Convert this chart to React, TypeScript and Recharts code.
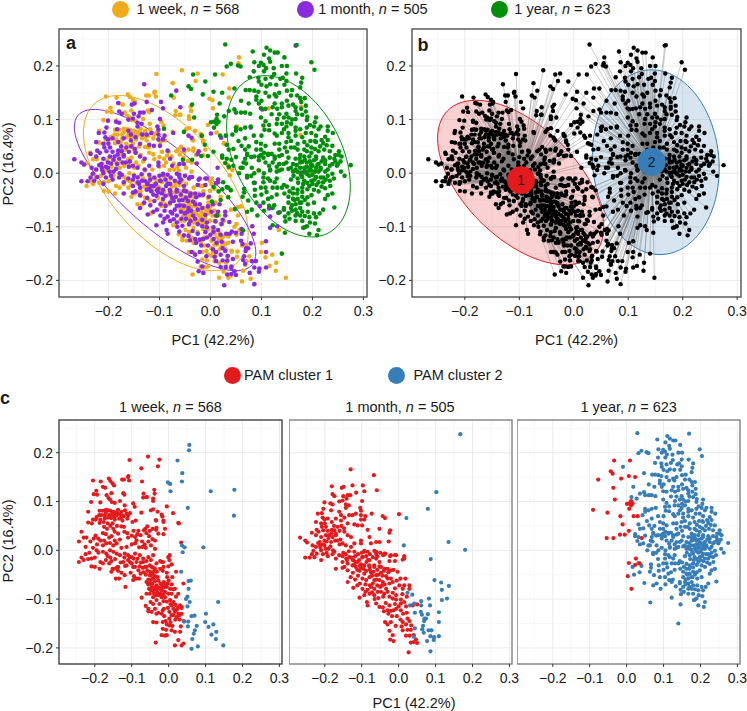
import React from 'react';
import { ScatterChart, Scatter, XAxis, YAxis, CartesianGrid, ReferenceArea } from 'recharts';

// values are PC scores x 1000
const weekCluster1 = [[-205,143],[-184,141],[-162,147],[-158,142],[-152,137],[-148,133],[-126,145],[-109,152],[-107,143],[-72,141],[-196,122],[-203,115],[-194,114],[-178,130],[-172,128],[-155,117],[-123,117],[-120,114],[-210,99],[-185,98],[-168,113],[-163,107],[-159,104],[-154,99],[-146,97],[-132,101],[-119,92],[-96,96],[-68,116],[-69,108],[-60,109],[-39,124],[-38,116],[-42,106],[-92,89],[-74,77],[-5,90],[-48,82],[-30,79],[-19,73],[-14,61],[-34,61],[26,56],[-218,79],[-187,81],[-179,81],[-170,83],[-164,82],[-158,81],[-150,79],[-137,83],[-128,79],[-114,75],[-105,76],[-188,72],[-182,72],[-173,72],[-161,72],[-150,72],[-141,72],[-128,68],[-110,72],[-205,63],[-198,63],[-185,63],[-173,65],[-164,67],[-146,63],[-134,65],[-125,61],[-112,65],[-98,58],[-89,61],[-58,49],[-63,44],[-43,44],[-34,42],[-10,44],[-208,55],[-218,57],[-187,56],[-175,48],[-167,44],[-150,44],[-128,49],[-121,48],[-146,38],[-137,34],[-236,38],[-230,26],[-223,26],[-203,24],[-191,24],[-185,20],[-170,33],[-161,26],[-155,29],[-146,20],[-132,22],[-110,26],[-91,27],[-82,40],[-67,41],[-51,40],[-87,20],[-76,31],[-53,29],[-28,34],[-37,20],[-243,18],[-225,7],[-194,12],[-178,10],[-169,14],[-159,15],[-150,10],[-141,14],[-128,5],[-114,7],[-100,12],[-91,14],[-71,7],[-62,5],[-37,3],[-236,-15],[-243,-24],[-230,-20],[-218,-18],[-209,-17],[-178,-3],[-169,-7],[-159,0],[-150,-3],[-141,-7],[-132,-10],[-119,-7],[-110,-10],[-100,-14],[-91,-7],[-78,-10],[-69,-17],[-55,-14],[-42,-10],[-33,-27],[-19,-24],[-1,-14],[2,-20],[-209,-33],[-200,-34],[-185,-24],[-178,-27],[-170,-20],[-161,-27],[-152,-38],[-141,-36],[-110,-20],[-100,-27],[-87,-24],[-91,-34],[-78,-33],[-64,-34],[-51,-31],[-42,-36],[-14,-34],[-1,-33],[8,-29],[-187,-38],[-106,185],[-56,192],[-25,186],[-29,172],[-74,168],[12,76],[28,55],[34,16],[-35,62],[-14,58],[-110,150],[-121,145],[-42,101],[-59,109],[-42,84],[-17,69],[-33,46],[-14,33],[3,-10],[-149,-38],[-137,-34],[-123,-24],[-114,-31],[-105,-24],[-96,-34],[-69,-24],[-60,-34],[-46,-34],[-37,-38],[-23,-22],[-15,-24],[-137,-42],[-128,-46],[-119,-51],[-143,-58],[-134,-58],[-103,-46],[-94,-53],[-88,-58],[-80,-58],[-117,-75],[-96,-61],[-51,-51],[-44,-48],[-37,-53],[-42,-58],[-49,-61],[-55,-60],[-60,-65],[-53,-68],[-44,-68],[-37,-63],[-33,-72],[-46,-75],[-53,-79],[-42,-82],[-33,-81],[-23,-79],[-16,-42],[-23,-38],[-5,-46],[-4,-55],[10,-55],[20,-44],[40,-68],[-3,-68],[-19,-82],[-10,-85],[-1,-89],[-23,-89],[-28,-92],[-19,-96],[-10,-96],[4,-79],[-73,-97],[-49,-106],[-33,-102],[-62,-114],[-55,-120],[-46,-126],[-55,-125],[-37,-120],[-33,-130],[-16,-123],[-13,-120],[-19,-130],[8,-113],[13,-120],[22,-122],[31,-113],[35,-116],[17,-126],[26,-130],[35,-130],[13,-133],[22,-137],[29,-133],[35,-118],[41,-145],[-42,-147],[-33,-148],[-16,-147],[2,-140],[5,-147],[-5,-152],[-16,-161],[-7,-163],[2,-154],[8,-164],[17,-167],[31,-167],[33,-156],[-35,-189],[-19,-174],[-5,-174],[26,-184],[17,-195],[35,-195],[40,-191],[-18,-72],[-13,-65],[-30,-55],[4,-102],[13,-106],[-14,-104],[-33,-92],[-42,-96],[-51,-89],[-60,-89],[-5,-75],[8,-89],[17,-79],[26,-89],[2,-126],[-155,-44],[-143,77],[-153,75],[-146,69],[-138,75],[-156,66],[-130,74],[-122,70],[-118,82],[-195,68],[-170,77],[-176,58],[-165,55],[-158,50],[-140,50],[-152,55],[-120,38],[-112,35],[-100,30],[-95,40],[-85,33],[-72,18],[-65,12],[-80,6],[-48,10],[-44,23],[-60,35],[-55,18],[-120,-15],[-105,-14],[-95,-17],[-84,-17],[-75,-25],[-60,-22],[-48,-20],[-82,-41],[-70,-36],[-58,-42],[-68,-45],[-76,-48],[-62,-50],[-50,-44],[-32,-44],[-28,-62],[-22,-68],[-48,-52],[-40,-44],[-55,-70],[-38,-76],[-28,-76],[-14,-76],[-30,-86],[-15,-90],[-40,-88],[-48,-82],[-8,-70],[0,-62],[8,-70],[12,-80],[20,-95],[-5,-105],[5,-110],[18,-112],[25,-118],[-2,-118],[-25,-110],[-42,-110],[-28,-128],[-12,-135],[8,-133],[18,-142],[30,-142],[-8,-145],[10,-155],[-10,-175],[-175,20],[-165,-12],[-155,-22],[-195,0],[-205,5],[-215,-5],[-225,-8],[-200,-15],[-190,-5],[-212,18],[-198,30],[-178,35],[-158,-15],[-145,-18],[-130,-25],[-118,-32]];
const weekCluster2 = [[56,216],[55,205],[24,184],[37,158],[36,141],[-2,139],[4,136],[5,121],[114,121],[178,124],[52,87],[177,71],[36,10],[43,6],[94,6],[38,-4],[34,-44],[54,-63],[60,-62],[54,-79],[51,-95],[47,-100],[57,-106],[134,-106],[51,-115],[62,-135],[70,-134],[101,-130],[42,-146],[53,-146],[76,-155],[99,-147],[121,-152],[108,-157],[52,-156],[71,-164],[68,-171],[116,-173],[129,-167],[64,-182],[128,-182],[148,-195],[79,-197],[62,-202]];
const monthCluster1 = [[-181,131],[-154,128],[-149,130],[-125,133],[-97,133],[-59,123],[-93,121],[-115,118],[-179,115],[-174,111],[-150,111],[-138,113],[-131,113],[-141,106],[-99,101],[-201,98],[-185,96],[-179,94],[-161,100],[-152,102],[-143,94],[-135,92],[-143,87],[-104,87],[-102,81],[-204,85],[-208,76],[-219,75],[-183,82],[-161,79],[-156,72],[-147,67],[-134,72],[-125,72],[-116,75],[-102,72],[-90,70],[-93,63],[-102,63],[-73,75],[-43,70],[-37,66],[1,74],[-206,67],[-201,63],[-224,58],[-210,55],[-192,65],[-181,58],[-170,65],[-156,61],[-138,55],[-120,53],[-111,51],[-99,51],[-84,42],[-52,44],[-23,41],[-25,36],[-208,48],[-197,48],[-222,42],[-235,36],[-217,38],[-204,41],[-181,42],[-174,41],[-170,34],[-147,38],[-138,31],[-129,27],[-79,27],[-61,17],[-75,14],[-52,17],[-27,18],[-267,26],[-253,20],[-248,16],[-224,31],[-210,27],[-197,31],[-188,31],[-179,27],[-170,31],[-214,17],[-201,20],[-183,17],[-172,20],[-158,22],[-233,10],[-224,7],[-213,10],[-201,10],[-190,3],[-174,-3],[-152,14],[-143,10],[-129,7],[-120,14],[-102,20],[-102,14],[-84,-3],[-66,-1],[-93,-1],[-36,-7],[-23,-12],[-10,-10],[-253,-15],[-241,-15],[-228,-14],[-231,-1],[-235,-8],[-222,-7],[-210,0],[-210,-20],[-198,3],[-192,-12],[-179,-8],[-170,-17],[-161,-10],[-152,-12],[-143,-8],[-134,-14],[-123,-20],[-116,-24],[-107,-20],[-98,-14],[-87,-24],[-79,-20],[-61,-7],[-42,-10],[-52,-24],[-25,-22],[-10,-22],[15,-17],[-170,-38],[-152,-36],[-138,-27],[-125,-31],[-116,-34],[-102,-36],[-93,-31],[-79,-34],[-66,-31],[-48,-34],[-30,-38],[-14,-40],[-120,-3],[-93,-3],[-61,-3],[-39,-7],[-21,-10],[-7,-10],[15,-12],[11,-19],[-142,-17],[-124,-20],[-111,-24],[-98,-14],[-84,-20],[-61,-17],[-152,-24],[-120,-29],[-102,-29],[-80,-31],[-66,-34],[-52,-33],[-39,-38],[-21,-41],[-3,-44],[-147,-34],[-138,-41],[-124,-46],[-106,-42],[-93,-48],[-75,-46],[-61,-51],[-48,-46],[-34,-53],[-21,-58],[-16,-65],[-98,-58],[-88,-61],[-79,-55],[-66,-61],[-52,-61],[-43,-65],[-138,-65],[-123,-77],[-98,-79],[-84,-81],[-75,-75],[-66,-79],[-57,-85],[-50,-75],[-34,-79],[-30,-85],[-79,-89],[-93,-92],[-106,-97],[-66,-92],[-39,-89],[-16,-87],[-7,-92],[2,-72],[15,-72],[29,-72],[29,-79],[11,-79],[-16,-99],[-7,-101],[6,-101],[15,-106],[6,-109],[20,-115],[-86,-106],[-84,-113],[-61,-109],[-52,-116],[-43,-117],[-25,-113],[-21,-124],[-30,-123],[-28,-130],[-14,-123],[-7,-120],[6,-123],[50,-111],[38,-113],[-37,-147],[-30,-152],[-21,-147],[-25,-165],[-16,-174],[-23,-183],[-14,-186],[5,-142],[11,-147],[8,-156],[11,-164],[20,-152],[29,-145],[24,-140],[34,-154],[24,-163],[33,-163],[41,-174],[47,-183],[41,-188],[50,-190],[33,-189],[27,-209],[-130,166],[-67,154],[-218,15],[-205,12],[-195,18],[-190,25],[-212,5],[-205,-8],[-195,-5],[-185,8],[-178,0],[-182,35],[-192,40],[-200,55],[-175,50],[-165,48],[-160,40],[-155,50],[-148,45],[-166,20],[-160,12],[-140,-20],[-150,-5],[-135,-2],[-128,-15],[-118,-12],[-110,-8],[-100,-5],[-88,-12],[-78,-8],[-70,-14],[-58,-12],[-50,-5],[-112,-40],[-105,-32],[-95,-38],[-88,-42],[-78,-40],[-72,-52],[-68,-44],[-58,-40],[-60,-60],[-55,-50],[-44,-52],[-40,-42],[-28,-45],[-30,-58],[-25,-68],[-38,-70],[-45,-72],[-58,-72],[-70,-68],[-78,-72],[-90,-70],[-105,-68],[-112,-72],[-90,-85],[-72,-86],[-48,-85],[-42,-95],[-25,-95],[-10,-78],[-5,-62],[5,-58],[18,-58],[10,-90],[22,-95],[-10,-110],[0,-115],[-35,-108],[-40,-125],[-18,-135],[-5,-135],[12,-130],[22,-128],[-8,-155],[20,-175],[30,-175],[-65,-100],[-55,-98],[-130,-55],[-118,-60],[-110,-52]];
const monthCluster2 = [[167,238],[102,119],[79,85],[21,66],[135,17],[180,1],[14,10],[87,-18],[97,-61],[115,-66],[136,-73],[117,-81],[24,-87],[37,-91],[82,-99],[117,-102],[131,-99],[61,-104],[42,-109],[31,-113],[61,-113],[85,-113],[60,-126],[44,-128],[79,-131],[63,-132],[70,-140],[74,-140],[69,-145],[109,-127],[109,-147],[66,-155],[44,-160],[64,-162],[81,-164],[89,-164],[68,-169],[41,-177],[86,-176],[96,-178],[109,-176],[95,-184],[77,-186],[86,-207]];
const yearCluster1 = [[-34,184],[9,184],[-43,162],[-38,157],[6,152],[-15,147],[23,150],[-77,145],[-36,128],[-32,104],[1,95],[7,96],[12,101],[16,96],[7,85],[12,92],[-91,83],[-52,77],[-17,70],[19,70],[30,70],[-11,53],[6,40],[-18,32],[-5,32],[-54,25],[-36,25],[41,25],[25,-17],[6,-26],[35,-27],[23,-30],[3,-53],[13,-79]];
const yearCluster2 = [[29,240],[169,239],[83,227],[110,234],[117,229],[126,225],[132,225],[105,221],[145,216],[115,214],[117,208],[86,207],[99,206],[104,202],[109,196],[124,196],[198,207],[204,193],[54,201],[40,204],[32,199],[59,199],[149,186],[168,186],[77,179],[94,178],[108,176],[120,179],[142,178],[180,178],[95,171],[117,166],[129,165],[137,176],[149,172],[178,169],[176,160],[47,158],[-10,171],[18,130],[69,155],[77,155],[86,154],[94,152],[108,150],[126,147],[90,143],[115,143],[129,143],[150,154],[158,145],[176,140],[90,137],[95,130],[126,130],[140,130],[122,123],[99,121],[108,120],[131,120],[140,123],[153,126],[162,128],[178,133],[187,126],[167,123],[178,120],[187,115],[167,116],[180,109],[36,116],[47,119],[50,113],[60,113],[68,113],[78,111],[27,106],[13,109],[207,104],[149,111],[144,104],[153,104],[131,101],[99,104],[108,97],[167,101],[189,99],[50,85],[59,82],[68,85],[79,87],[50,79],[104,89],[106,81],[140,92],[149,87],[144,82],[158,92],[167,85],[176,82],[189,85],[203,87],[216,87],[230,87],[230,79],[212,82],[198,75],[187,75],[167,79],[153,75],[140,75],[126,74],[153,67],[167,70],[180,67],[207,70],[225,68],[43,72],[32,53],[36,44],[68,65],[61,51],[68,44],[90,58],[99,55],[99,44],[108,51],[126,55],[135,55],[149,58],[158,60],[135,44],[146,48],[158,48],[171,55],[184,58],[196,60],[207,58],[221,56],[239,51],[252,41],[171,44],[184,44],[198,48],[212,41],[223,44],[234,41],[245,34],[257,31],[72,34],[86,31],[99,34],[113,36],[126,31],[140,34],[153,29],[167,27],[176,34],[189,41],[184,31],[198,38],[207,31],[221,29],[234,29],[32,27],[23,33],[68,27],[95,24],[108,20],[122,20],[135,17],[149,20],[162,17],[176,20],[189,20],[203,24],[212,17],[225,17],[239,17],[250,17],[184,10],[198,14],[207,10],[176,10],[167,7],[153,8],[194,5],[216,7],[230,7],[81,10],[63,10],[117,7],[135,5],[275,15],[263,-5],[256,3],[248,14],[252,34],[23,29],[29,19],[36,12],[45,14],[59,10],[70,18],[72,36],[95,31],[104,29],[113,34],[126,27],[115,14],[130,12],[144,17],[158,10],[169,15],[180,21],[194,31],[207,27],[225,24],[243,27],[234,14],[216,10],[198,16],[189,12],[56,0],[72,-5],[86,0],[72,-8],[104,-8],[113,-10],[117,5],[130,3],[140,7],[162,3],[176,1],[187,1],[198,5],[212,3],[225,3],[239,-1],[180,-7],[194,-5],[207,-7],[221,-8],[230,-5],[234,-14],[171,-10],[184,-14],[198,-14],[212,-17],[221,-17],[104,-17],[117,-14],[126,-17],[130,-10],[99,-27],[108,-27],[122,-27],[131,-27],[140,-27],[144,-22],[87,-31],[66,-29],[66,-36],[40,-32],[32,-26],[16,-34],[63,-44],[74,-51],[87,-42],[90,-55],[104,-55],[113,-48],[115,-61],[122,-65],[133,-74],[144,-68],[146,-81],[147,-90],[162,-38],[171,-31],[180,-27],[194,-24],[203,-31],[212,-34],[230,-41],[239,-38],[225,-48],[198,-41],[153,-44],[162,-48],[171,-48],[180,-44],[153,-55],[167,-58],[178,-55],[191,-58],[203,-55],[243,-64],[221,-68],[144,-65],[158,-65],[167,-68],[176,-65],[191,-72],[203,-75],[214,-75],[153,-75],[167,-79],[176,-79],[194,-82],[207,-82],[167,-89],[180,-89],[205,-94],[185,-101],[182,-102],[189,-99],[122,-97],[212,-106],[194,-113],[146,-111],[209,-116],[64,-107],[140,-150],[48,-67],[72,-72],[81,-68],[92,-79],[190,-2],[200,-3],[205,3],[195,8],[185,5],[178,-4],[170,3],[163,-5],[158,-12],[172,-18],[182,-20],[190,-18],[200,-20],[208,-22],[218,-25],[225,-28],[235,-24],[242,-10],[226,-12],[216,-8],[204,-12],[190,-30],[180,-35],[170,-38],[162,-28],[155,-34],[150,-25],[145,-38],[175,-55],[185,-50],[190,-45],[165,-50],[160,-60],[170,-75],[180,-72],[185,-80],[195,-92],[160,-70],[155,-85],[200,14],[210,16],[218,22],[195,22],[185,25],[175,27],[205,45],[190,52],[215,50],[228,52],[245,22],[255,22],[230,62],[240,75],[218,62],[205,60],[165,48],[150,40],[135,32],[120,36],[105,38],[90,44],[75,50],[130,70],[115,80],[100,70],[85,70],[160,100],[150,95],[135,110],[120,110],[115,90],[130,92],[170,110],[195,90],[100,135],[75,130],[60,135],[135,150],[150,135],[160,155],[145,165],[110,162],[100,165],[125,185],[105,190],[85,190],[95,200],[140,200],[150,200],[170,145],[185,140],[190,105],[205,95],[110,-35],[120,-45],[100,-40],[85,-18],[80,-5],[95,5],[105,0],[65,20],[50,30],[45,45],[55,60],[80,30],[35,-45],[20,-50],[130,-40],[125,-60],[105,-70]];
const medoidValues = [[-97,-13],[143,21]];

// ellipse: centre x, centre y, half width, y offset at the widest point, remaining y half axis
const ellipseWeek = [-87.5,-18.5,161.5,-93.5,134.1];
const ellipseMonth = [-89,-31.5,178,-117.5,94];
const ellipseYear = [153,31.5,121.3,-56.5,139.5];
const ellipseCluster1 = [-97.5,-17.5,152.5,-82.5,129.4];
const ellipseCluster2 = [150.5,20.5,116.5,-11.5,172];

const xTicks = [-0.2,-0.1,0,0.1,0.2,0.3];
const yTicks = [-0.2,-0.1,0,0.1,0.2];
const xMinor = [-0.25,-0.15,-0.05,0.05,0.15,0.25];
const yMinor = [-0.15,-0.05,0.05,0.15,0.25];

const ORANGE = '#F0AB1A', PURPLE = '#8A2BE0', GREEN = '#008F0A', RED = '#E41A1C', BLUE = '#377EB8';
const FONT = '"Liberation Sans", Arial, sans-serif';
const INK = '#1a1a1a';

const pts = (rows: number[][]) => rows.map(([x, y]) => ({ x: x / 1000, y: y / 1000 }));
const week1 = pts(weekCluster1), week2 = pts(weekCluster2);
const month1 = pts(monthCluster1), month2 = pts(monthCluster2);
const year1 = pts(yearCluster1), year2 = pts(yearCluster2);
const medoids = pts(medoidValues);
const cluster1 = [...week1, ...month1, ...year1];
const cluster2 = [...week2, ...month2, ...year2];

const spokes = (m: any, list: any[], part: number, parts: number) =>
  list.filter((_, i) => i % parts === part).flatMap((p) => [m, p]);

const dot = (fill: string, r: number) => (p: any) => <circle cx={p.cx} cy={p.cy} r={r} fill={fill} />;
const none = () => <g />;
const fmt = (v: number) => v.toFixed(1).replace('-', '\u2212');

const XD: [number, number] = [-0.297, 0.307];
const YD: [number, number] = [-0.231, 0.269];
const YDC: [number, number] = [-0.233, 0.267];

const ellipseShape = (e: number[], yd: number[], stroke: string, fill: string) => (p: any) => {
  const sx = (v: number) => p.x + ((v - XD[0]) / (XD[1] - XD[0])) * p.width;
  const sy = (v: number) => p.y + ((yd[1] - v) / (yd[1] - yd[0])) * p.height;
  let d = '';
  for (let i = 0; i < 90; i++) {
    const t = (i / 90) * 2 * Math.PI;
    const vx = (e[0] + e[2] * Math.cos(t)) / 1000;
    const vy = (e[1] + e[3] * Math.cos(t) + e[4] * Math.sin(t)) / 1000;
    d += (i ? 'L' : 'M') + sx(vx).toFixed(2) + ' ' + sy(vy).toFixed(2);
  }
  return <path d={d + 'Z'} fill={fill} fillOpacity={fill === 'none' ? 0 : 0.2} stroke={stroke} strokeWidth={1} />;
};

const borderShape = (stroke: string) => (p: any) => (
  <rect x={p.x} y={p.y} width={p.width} height={p.height} fill="none" stroke={stroke} strokeWidth={1.3} />
);

const medoidShape = (p: any) => (
  <g>
    <circle cx={p.cx} cy={p.cy} r={14} fill={p.payload.x < 0 ? RED : BLUE} />
    <text x={p.cx} y={p.cy + 5} textAnchor="middle" fontSize={14} fontFamily={FONT} fill={INK}>
      {p.payload.x < 0 ? '1' : '2'}
    </text>
  </g>
);

function panelBase(yd: number[], showY: boolean) {
  return [
    <CartesianGrid key="gm" stroke="#F3F3F3" strokeWidth={0.7} verticalValues={xMinor} horizontalValues={yMinor} />,
    <CartesianGrid key="gM" stroke="#EBEBEB" strokeWidth={1} verticalValues={xTicks} horizontalValues={yTicks} />,
    <XAxis key="x" type="number" dataKey="x" domain={XD} ticks={xTicks} interval={0} allowDataOverflow height={30}
      tickFormatter={fmt} axisLine={false} tickLine={{ stroke: '#333' }} tickSize={3} tickMargin={6}
      tick={{ fill: INK, fontSize: 14, fontFamily: FONT }} />,
    <YAxis key="y" type="number" dataKey="y" domain={yd} ticks={yTicks} interval={0} allowDataOverflow
      hide={!showY} width={showY ? 50 : 0} tickFormatter={fmt} axisLine={false} tickLine={{ stroke: '#333' }}
      tickSize={3} tickMargin={3} tick={{ fill: INK, fontSize: 14, fontFamily: FONT }} />,
  ];
}

const fullArea = (yd: number[], shape: any, key: string) => (
  <ReferenceArea key={key} x1={XD[0]} x2={XD[1]} y1={yd[0]} y2={yd[1]} shape={shape} ifOverflow="visible" />
);

function Panel({ left, top, w, h, showY, children }: any) {
  const yw = showY ? 50 : 0;
  return (
    <div style={{ position: 'absolute', left: left - yw, top: top - 5 }}>
      <ScatterChart width={w + yw + 10} height={h + 35} margin={{ top: 5, right: 10, bottom: 0, left: 0 }}>
        {children}
      </ScatterChart>
    </div>
  );
}

function Txt({ x, y, rot, size = 14.5, bold, children }: any) {
  return (
    <div style={{
      position: 'absolute', left: x, top: y, whiteSpace: 'nowrap', fontSize: size, lineHeight: 1, color: INK,
      fontWeight: bold ? 700 : 400, transform: `translate(-50%,-50%)${rot ? ' rotate(-90deg)' : ''}`,
    }}>{children}</div>
  );
}

function Swatch({ x, y, color }: any) {
  return <div style={{ position: 'absolute', left: x - 8.5, top: y - 8.5, width: 17, height: 17, borderRadius: '50%', background: color }} />;
}

const N = ({ n }: any) => <><i>n</i> = {n}</>;

export default function App() {
  return (
    <div style={{ position: 'absolute', left: 0, top: 0, width: 747, height: 711, overflow: 'hidden', fontFamily: FONT, background: '#fff' }}>
      <Swatch x={120} y={9} color={ORANGE} />
      <Txt x={188} y={9}>1 week, <N n={568} /></Txt>
      <Swatch x={305} y={9} color={PURPLE} />
      <Txt x={373} y={9}>1 month, <N n={505} /></Txt>
      <Swatch x={499} y={9} color={GREEN} />
      <Txt x={562.5} y={9}>1 year, <N n={623} /></Txt>

      <Panel left={59} top={29} w={308} h={268} showY>
        {panelBase(YD, true)}
        {fullArea(YD, ellipseShape(ellipseWeek, YD, ORANGE, 'none'), 'e1')}
        {fullArea(YD, ellipseShape(ellipseMonth, YD, PURPLE, 'none'), 'e2')}
        {fullArea(YD, ellipseShape(ellipseYear, YD, GREEN, 'none'), 'e3')}
        <Scatter data={[...week1, ...week2]} fill={ORANGE} shape={dot(ORANGE, 2.3)} isAnimationActive={false} />
        <Scatter data={[...month1, ...month2]} fill={PURPLE} shape={dot(PURPLE, 2.3)} isAnimationActive={false} />
        <Scatter data={[...year1, ...year2]} fill={GREEN} shape={dot(GREEN, 2.3)} isAnimationActive={false} />
        {fullArea(YD, borderShape('#444'), 'b')}
      </Panel>

      <Panel left={411.5} top={29} w={329} h={268} showY>
        {panelBase(YD, true)}
        {fullArea(YD, ellipseShape(ellipseCluster1, YD, RED, RED), 'e1')}
        {fullArea(YD, ellipseShape(ellipseCluster2, YD, BLUE, BLUE), 'e2')}
        {[0, 1, 2, 3, 4, 5].map((k) => (
          <Scatter key={'s1' + k} data={spokes(medoids[0], cluster1, k, 6)} shape={none} isAnimationActive={false}
            line={{ stroke: '#777', strokeWidth: 0.6, strokeOpacity: 0.35 }} />
        ))}
        {[0, 1, 2, 3, 4, 5].map((k) => (
          <Scatter key={'s2' + k} data={spokes(medoids[1], cluster2, k, 6)} shape={none} isAnimationActive={false}
            line={{ stroke: '#777', strokeWidth: 0.6, strokeOpacity: 0.35 }} />
        ))}
        <Scatter data={[...cluster1, ...cluster2]} fill="#000" shape={dot('#000', 2.2)} isAnimationActive={false} />
        <Scatter data={medoids} fill={RED} shape={medoidShape} isAnimationActive={false} />
        {fullArea(YD, borderShape('#444'), 'b')}
      </Panel>

      <Txt x={213} y={340}>PC1 (42.2%)</Txt>
      <Txt x={576.5} y={340}>PC1 (42.2%)</Txt>
      <Txt x={8} y={164} rot>PC2 (16.4%)</Txt>
      <Txt x={71} y={43} size={18} bold>a</Txt>
      <Txt x={423} y={45} size={18} bold>b</Txt>
      <Txt x={5} y={398} size={18} bold>c</Txt>

      <Swatch x={232} y={375} color={RED} />
      <Txt x={288.5} y={375}>PAM cluster 1</Txt>
      <Swatch x={396} y={375} color={BLUE} />
      <Txt x={458} y={375}>PAM cluster 2</Txt>

      <Txt x={170.5} y={407}>1 week, <N n={568} /></Txt>
      <Txt x={400} y={407}>1 month, <N n={505} /></Txt>
      <Txt x={628.7} y={407}>1 year, <N n={623} /></Txt>

      <Panel left={59} top={420} w={223} h={244} showY>
        {panelBase(YDC, true)}
        <Scatter data={week1} fill={RED} shape={dot(RED, 2.1)} isAnimationActive={false} />
        <Scatter data={week2} fill={BLUE} shape={dot(BLUE, 2.1)} isAnimationActive={false} />
        {fullArea(YDC, borderShape('#333'), 'b')}
      </Panel>
      <Panel left={288.5} top={420} w={223} h={244}>
        {panelBase(YDC, false)}
        <Scatter data={month1} fill={RED} shape={dot(RED, 2.1)} isAnimationActive={false} />
        <Scatter data={month2} fill={BLUE} shape={dot(BLUE, 2.1)} isAnimationActive={false} />
        {fullArea(YDC, borderShape('#777'), 'b')}
      </Panel>
      <Panel left={517} top={420} w={223} h={244}>
        {panelBase(YDC, false)}
        <Scatter data={year2} fill={BLUE} shape={dot(BLUE, 2.1)} isAnimationActive={false} />
        <Scatter data={year1} fill={RED} shape={dot(RED, 2.1)} isAnimationActive={false} />
        {fullArea(YDC, borderShape('#777'), 'b')}
      </Panel>

      <Txt x={414} y={703}>PC1 (42.2%)</Txt>
      <Txt x={8} y={541} rot>PC2 (16.4%)</Txt>
    </div>
  );
}
